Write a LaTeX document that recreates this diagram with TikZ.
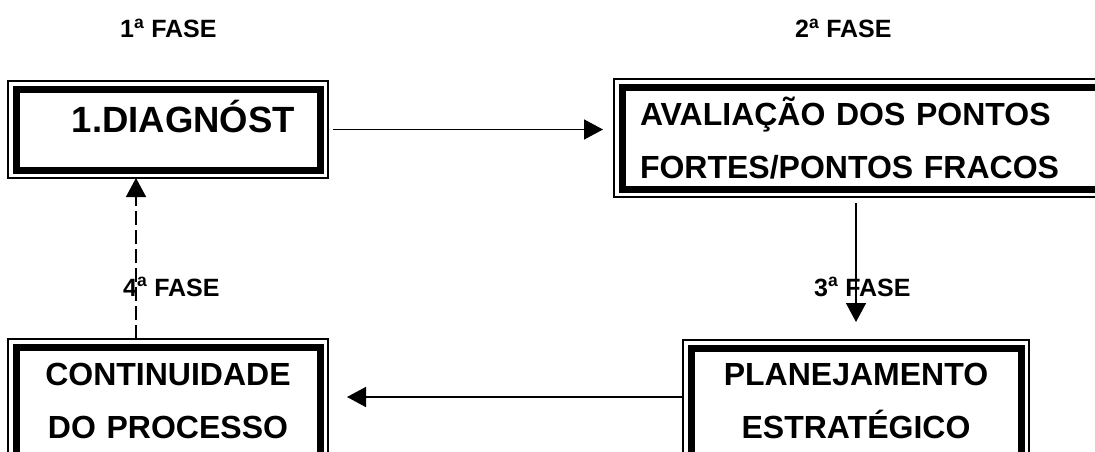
\documentclass[tikz,border=0pt]{standalone}
\usepackage{fontspec}
\setmainfont{Liberation Sans}
\usetikzlibrary{arrows.meta}

\tikzset{
    fasebox/.style={draw, line width=7pt, inner sep=0pt, outer sep=0pt,
        anchor=north west, font=\bfseries\fontsize{32}{53}\selectfont,
        append after command={\pgfextra{\draw[line width=1.2pt]
            ([shift={(-8pt,8pt)}]\tikzlastnode.north west) rectangle
            ([shift={(8pt,-8pt)}]\tikzlastnode.south east);}}},
    fasetag/.style={inner sep=0pt, anchor=base west,
        font=\bfseries\fontsize{25}{30}\selectfont},
    seta/.style={line width=1.5pt, -{Triangle[length=19pt,width=20pt]}}
}

\begin{document}
\begin{tikzpicture}[x=1pt, y=1pt]
\useasboundingbox (0,0) rectangle (1095,-452);
\clip (0,0) rectangle (1095,-452);

% phase titles
\node[fasetag] (f1) at (120,-37.5) {1\textsuperscript{a} FASE};
\node[fasetag] (f2) at (795,-37.5) {2\textsuperscript{a} FASE};
\node[fasetag] (f3) at (814,-296) {3\textsuperscript{a} FASE};
\node[fasetag] (f4) at (123,-296) {4\textsuperscript{a} FASE};

% the four boxes
\node[fasebox, text width=254pt, inner xsep=25pt, align=right,
      text height=43pt, text depth=38pt,
      font=\bfseries\fontsize{36.5}{44}\selectfont] (diag) at (16,-89) {1.DIAGNÓST};
\node[fasebox, text width=452pt, inner xsep=18pt, align=left,
      text height=38pt, text depth=64pt] (aval) at (622,-87)
      {AVALIAÇÃO DOS PONTOS\\FORTES/PONTOS FRACOS};
\node[fasebox, text width=304pt, align=center,
      text height=38pt, text depth=85pt] (cont) at (16,-347)
      {CONTINUIDADE\\DO PROCESSO};
\node[fasebox, text width=330pt, align=center,
      text height=37pt, text depth=85pt] (plan) at (691,-348)
      {PLANEJAMENTO\\ESTRATÉGICO};

\coordinate (c3) at ([yshift=12pt]plan.west);
\coordinate (c4) at ([xshift=-32pt]cont.north);

% cycle
\draw[seta, shorten <=13pt, shorten >=19pt] (diag.east) -- (diag.east -| aval.west);
\draw[seta, shorten <=14pt, shorten >=26pt] (plan.north |- aval.south) -- (plan.north);
\draw[seta, shorten <=9pt, shorten >=27pt] (c3) -- (c3 -| cont.east);
\draw[seta, dash pattern=on 14pt off 5pt, shorten <=8pt, shorten >=8pt] (c4) -- (c4 |- diag.south);
\end{tikzpicture}
\end{document}
